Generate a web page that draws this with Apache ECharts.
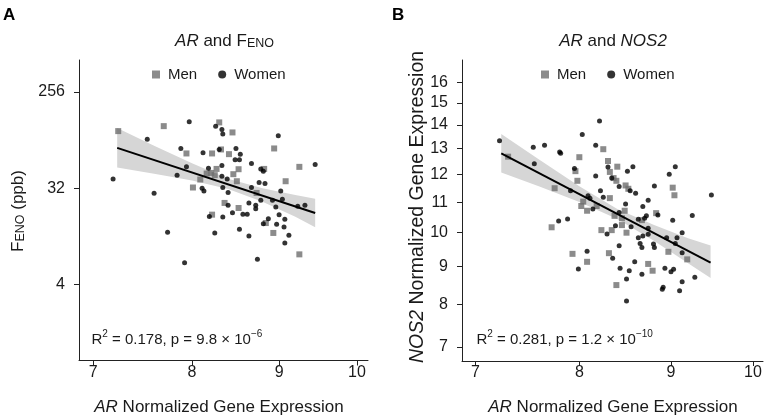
<!DOCTYPE html>
<html><head><meta charset="utf-8">
<script src="https://cdn.jsdelivr.net/npm/echarts@6/dist/echarts.min.js"></script>
<style>html,body{margin:0;padding:0;background:#fff}#c{width:765px;height:419px}</style>
</head><body><div id="c"></div>
<script>
// ---------- DATA ----------
// Panel A: AR expression (x) vs FeNO ppb (y)
const aMen = [[7.24,109.6],[7.70,122.0],[8.30,132.2],[8.45,106.5],[7.94,67.7],[8.22,67.7],[8.32,73.8],[8.41,66.7],[8.52,48.2],[8.27,48.5],[8.16,43.9],[8.21,44.5],[8.25,42.4],[8.46,43.3],[8.09,38.6],[8.50,37.2],[8.01,32.5],[8.36,23.3],[8.52,20.9],[8.22,18.1],[8.94,75.4],[9.25,50.7],[8.82,48.5],[9.08,37.2],[8.84,15.1],[8.93,12.2],[9.25,7.69],[8.73,28.9]];
const aWomen = [[7.97,134],[8.26,122],[8.33,113.7],[8.34,102.7],[7.53,92.2],[7.88,75.4],[8.12,68.6],[8.30,73.8],[8.49,75.4],[8.54,66.7],[8.48,59.0],[8.53,59.0],[7.94,50.7],[8.18,49.3],[8.33,52.2],[7.84,42.4],[8.33,41.5],[8.39,39.1],[7.19,39.1],[8.11,32.0],[8.13,30.2],[8.34,32.5],[8.40,29.2],[7.60,28.7],[8.64,23.3],[8.40,22.2],[8.45,18.9],[8.57,18.3],[8.62,18.3],[8.19,17.4],[8.34,17.2],[7.74,12.4],[8.25,12.2],[8.53,13.2],[8.64,11.4],[7.92,6.43],[8.99,99.0],[8.67,54.5],[8.78,48.5],[8.81,46.2],[9.45,53.4],[8.76,36.2],[8.83,35.4],[8.67,32.5],[9.02,30.2],[8.92,24.7],[8.78,24.7],[9.04,25.2],[8.72,22.2],[8.72,20.6],[8.96,21.4],[9.23,21.7],[9.32,22.2],[9.00,18.1],[9.07,16.4],[8.87,16.6],[8.81,14.9],[8.97,14.7],[9.06,13.9],[9.12,11.6],[9.07,9.82],[8.74,6.91]];
const aFit = [[7.23,76.4],[9.45,18.78]];
const aBandX = [7.23,7.6,8.0,8.4,8.8,9.2,9.45];
const aBandLo = [49.9,43.6,37.7,31.5,23.9,17.3,13.8];
const aBandHi = [116.9,79.8,54.7,39.2,31.9,27.7,25.5];
const aYTicks = [4,32,256];

// Panel B: AR expression (x) vs NOS2 expression (y)
const bMen = [[7.30,12.68],[8.25,12.98],[8.00,12.66],[8.30,12.51],[8.40,12.29],[8.32,12.09],[7.96,12.12],[7.98,11.76],[8.36,11.86],[8.39,11.76],[7.75,11.49],[8.32,11.14],[8.04,11.02],[8.02,10.87],[8.08,10.71],[8.18,10.87],[8.37,10.54],[7.72,10.17],[8.23,10.08],[8.34,10.08],[8.49,11.59],[8.52,11.47],[9.02,11.51],[9.04,11.24],[8.48,10.71],[8.45,10.46],[8.45,10.24],[8.67,10.40],[8.83,10.63],[8.50,10.0],[7.93,9.36],[8.08,9.13],[8.31,9.38],[8.97,9.42],[9.19,9.20],[8.74,9.07],[8.79,8.88],[8.39,8.49]];
const bWomen = [[7.22,13.33],[7.54,13.06],[7.65,13.14],[7.80,12.87],[7.81,12.82],[7.55,12.40],[8.03,13.59],[8.21,14.18],[8.17,13.14],[7.95,12.22],[8.17,11.94],[8.22,11.40],[7.91,11.40],[8.09,11.22],[8.11,11.14],[8.25,11.17],[8.30,12.28],[8.34,11.86],[8.14,10.77],[7.79,10.37],[7.88,10.44],[8.29,9.96],[8.38,10.22],[8.42,10.65],[8.51,12.12],[8.57,12.29],[8.98,12.00],[9.05,12.29],[8.42,11.55],[8.54,11.40],[8.60,11.31],[8.81,11.57],[8.74,11.07],[8.68,10.85],[8.49,10.94],[9.48,11.25],[8.63,10.43],[8.70,10.46],[8.72,10.54],[8.85,10.57],[9.02,10.40],[9.25,10.55],[8.55,10.19],[8.74,10.14],[8.63,9.84],[8.68,9.90],[8.74,9.95],[8.95,9.84],[9.07,9.84],[9.13,10.0],[8.65,9.67],[8.67,9.55],[8.80,9.65],[8.81,9.55],[9.05,9.67],[8.42,9.60],[8.35,9.23],[9.13,9.39],[8.59,9.13],[8.43,8.95],[8.53,8.88],[8.67,8.78],[8.93,8.95],[9.00,8.85],[9.03,8.92],[8.50,8.65],[9.13,8.58],[9.28,8.70],[8.90,8.38],[8.91,8.43],[9.10,8.34],[8.50,8.08],[8.08,9.44],[7.99,8.93]];
const bFit = [[7.236,12.81],[9.47,9.106]];
const bBandX = [7.236,7.6,8.0,8.4,8.8,9.2,9.47];
const bBandLo = [12.07,11.55,11.01,10.44,9.76,9.09,8.68];
const bBandHi = [13.61,12.56,11.56,10.77,10.25,9.83,9.608];
const bYTicks = [7,8,9,10,11,12,13,14,15,16];

const xTicks = [7,8,9,10];

// ---------- CHART ----------
const FONT = '"Liberation Sans", Arial, Helvetica, sans-serif';
const TXT = '#1a1a1a';
const lg10 = Math.log10, lg2 = Math.log2;
const tA = p => [lg10(p[0]), lg2(p[1])];
const tB = p => [lg10(p[0]), lg10(p[1])];

function bandSeries(idx, bx, lo, hi, fy) {
  const rows = bx.map((x, i) => [lg10(x), fy(lo[i]), fy(hi[i])]);
  return {
    type: 'custom', xAxisIndex: idx, yAxisIndex: idx, silent: true, z: 1,
    data: rows,
    renderItem: function (params, api) {
      if (params.dataIndex !== 0) return null;
      const up = rows.map(r => api.coord([r[0], r[2]]));
      const dn = rows.map(r => api.coord([r[0], r[1]])).reverse();
      return { type: 'polygon', shape: { points: up.concat(dn) }, style: { fill: '#d6d6d6' } };
    }
  };
}

function xAxis(idx, min, max) {
  const cv = xTicks.map(lg10);
  return {
    type: 'value', gridIndex: idx, min: lg10(min), max: lg10(max),
    splitLine: { show: false },
    axisLine: { show: true, onZero: false, lineStyle: { color: '#222', width: 1 } },
    axisTick: { show: true, length: 5, customValues: cv, lineStyle: { color: '#222' } },
    axisLabel: { customValues: cv, formatter: v => String(Math.round(Math.pow(10, v))), fontSize: 16, margin: 4, color: TXT, fontFamily: FONT }
  };
}
function yAxis(idx, min, max, ticks, f, inv) {
  const cv = ticks.map(f);
  return {
    type: 'value', gridIndex: idx, min: min, max: max,
    splitLine: { show: false },
    axisLine: { show: true, onZero: false, lineStyle: { color: '#222', width: 1 } },
    axisTick: { show: true, length: 5, customValues: cv, lineStyle: { color: '#222' } },
    axisLabel: { customValues: cv, formatter: v => String(Math.round(inv(v))), fontSize: 16, margin: 14, color: TXT, fontFamily: FONT }
  };
}

const MEN_C = '#6e6e6e', WOMEN_C = '#000000';
function scatter(idx, name, data, t) {
  const isMen = name === 'Men';
  return {
    type: 'scatter', name: name, xAxisIndex: idx, yAxisIndex: idx, z: 3,
    data: data.map(t),
    symbol: isMen ? 'rect' : 'circle', symbolSize: isMen ? 6 : 5,
    itemStyle: { color: isMen ? MEN_C : WOMEN_C },
    emphasis: { disabled: true }
  };
}
function fitLine(idx, data, t) {
  return {
    type: 'line', xAxisIndex: idx, yAxisIndex: idx, z: 4, data: data.map(t),
    showSymbol: false, symbol: 'none', silent: true,
    lineStyle: { color: '#000', width: 2 }
  };
}

function richSet(fs) {
  const sm = fs * 0.735;
  return {
    i: { fontStyle: 'italic', fontSize: fs, lineHeight: fs + 3, verticalAlign: 'bottom', fontFamily: FONT, fill: TXT },
    n: { fontSize: fs, lineHeight: fs + 3, verticalAlign: 'bottom', fontFamily: FONT, fill: TXT },
    e: { fontSize: sm, lineHeight: sm + 3.5, verticalAlign: 'bottom', fontFamily: FONT, fill: TXT },
    s: { fontSize: sm, lineHeight: sm - 1.5, verticalAlign: 'bottom', fontFamily: FONT, fill: TXT }
  };
}
const richBase = richSet(17);
const richBig = richSet(19.5);
const richR = {
  n: { fontSize: 15, lineHeight: 18, verticalAlign: 'bottom', fontFamily: FONT, fill: TXT },
  p: { fontSize: 10, lineHeight: 10, verticalAlign: 'top', fontFamily: FONT, fill: TXT }
};
function txt(x, y, text, rich, extra) {
  return Object.assign({
    type: 'text', x: x, y: y, silent: true,
    style: { text: text, rich: rich, align: 'center', verticalAlign: 'middle', fontFamily: FONT, fill: TXT }
  }, extra || {});
}

const legendData = [{ name: 'Men', icon: 'rect' }, { name: 'Women', icon: 'circle' }];
function legend(left) {
  return {
    left: left, top: 62, orient: 'horizontal', itemWidth: 8, itemHeight: 8, itemGap: 21,
    selectedMode: false, data: legendData,
    textStyle: { fontSize: 15, color: TXT, fontFamily: FONT, padding: [0, 0, 0, 3] }
  };
}

const chart = echarts.init(document.getElementById('c'), null, { renderer: 'canvas' });
chart.setOption({
  animation: false,
  backgroundColor: '#fff',
  textStyle: { fontFamily: FONT },
  grid: [
    { left: 79, top: 60, width: 289, height: 300.5 },
    { left: 462, top: 60, width: 301, height: 301 }
  ],
  xAxis: [xAxis(0, 6.866, 10.15), xAxis(1, 6.88, 10.13)],
  yAxis: [
    yAxis(0, -0.358, 8.9875, aYTicks, lg2, v => Math.pow(2, v)),
    yAxis(1, 0.8259, 1.2343, bYTicks, lg10, v => Math.pow(10, v))
  ],
  legend: [legend(147), legend(536)],
  series: [
    bandSeries(0, aBandX, aBandLo, aBandHi, lg2),
    scatter(0, 'Men', aMen, tA),
    scatter(0, 'Women', aWomen, tA),
    fitLine(0, aFit, tA),
    bandSeries(1, bBandX, bBandLo, bBandHi, lg10),
    scatter(1, 'Men', bMen, tB),
    scatter(1, 'Women', bWomen, tB),
    fitLine(1, bFit, tB)
  ],
  graphic: [
    { type: 'text', left: 3, top: 7, silent: true, style: { text: 'A', font: 'bold 17px ' + FONT, fill: '#000' } },
    { type: 'text', left: 392, top: 7, silent: true, style: { text: 'B', font: 'bold 17px ' + FONT, fill: '#000' } },
    txt(224.5, 40, '{i|AR}{n| and F}{e|E}{s|NO}', richBase),
    txt(613, 40, '{i|AR}{n| and }{i|NOS2}', richBase),
    txt(219, 406, '{i|AR}{n| Normalized Gene Expression}', richBase),
    txt(613, 406, '{i|AR}{n| Normalized Gene Expression}', richBase),
    txt(17, 211, '{n|F}{e|E}{s|NO}{n| (ppb)}', richBase, { rotation: Math.PI / 2 }),
    txt(416, 207, '{i|NOS2}{n| Normalized Gene Expression}', richBig, { rotation: Math.PI / 2 }),
    { type: 'text', x: 91.5, y: 347, silent: true, style: { text: '{n|R}{p|2}{n| = 0.178, p = 9.8 \u00d7 10}{p|\u22126}', rich: richR, align: 'left', verticalAlign: 'bottom', fontFamily: FONT } },
    { type: 'text', x: 476.5, y: 347, silent: true, style: { text: '{n|R}{p|2}{n| = 0.281, p = 1.2 \u00d7 10}{p|\u221210}', rich: richR, align: 'left', verticalAlign: 'bottom', fontFamily: FONT } }
  ]
});
</script>
</body></html>
